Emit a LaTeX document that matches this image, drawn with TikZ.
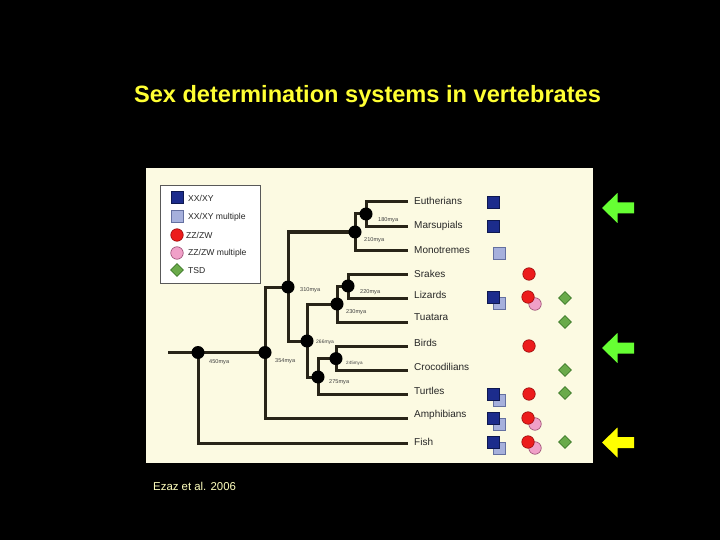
\documentclass[tikz,border=0pt]{standalone}
\usepackage{fontspec}
\setmainfont{Liberation Sans}
\usetikzlibrary{shapes.geometric}
\definecolor{titleyellow}{RGB}{255,255,51}
\definecolor{citeyellow}{RGB}{255,255,190}
\definecolor{panelbg}{RGB}{252,250,226}
\definecolor{branch}{RGB}{40,36,24}
\definecolor{xxdark}{RGB}{28,44,140}
\definecolor{xxdarkline}{RGB}{14,24,80}
\definecolor{xxlight}{RGB}{166,176,220}
\definecolor{xxlightline}{RGB}{100,112,160}
\definecolor{zzred}{RGB}{236,28,28}
\definecolor{zzredline}{RGB}{150,10,10}
\definecolor{zzpink}{RGB}{240,160,200}
\definecolor{zzpinkline}{RGB}{150,70,110}
\definecolor{tsdgreen}{RGB}{106,170,74}
\definecolor{tsdline}{RGB}{60,120,40}
\definecolor{arrowgreen}{RGB}{102,255,51}
\definecolor{arrowyellow}{RGB}{255,255,0}
\tikzset{
  brl/.style={draw=branch, line width=3pt},
  dot/.style={circle, fill=black, minimum size=13pt, inner sep=0pt},
  xxd/.style={rectangle, fill=xxdark, draw=xxdarkline, line width=0.6pt, minimum size=12pt, inner sep=0pt},
  xxl/.style={rectangle, fill=xxlight, draw=xxlightline, line width=0.6pt, minimum size=12pt, inner sep=0pt},
  zzr/.style={circle, fill=zzred, draw=zzredline, line width=0.6pt, minimum size=12.5pt, inner sep=0pt},
  zzp/.style={circle, fill=zzpink, draw=zzpinkline, line width=0.6pt, minimum size=12.5pt, inner sep=0pt},
  tsd/.style={diamond, fill=tsdgreen, draw=tsdline, line width=0.6pt, minimum size=13pt, inner sep=0pt},
  tip/.style={anchor=west, font=\fontsize{10}{12}\selectfont, text=black!85, inner sep=0pt},
  mya/.style={anchor=west, font=\fontsize{5.6}{6}\selectfont, text=black!75, inner sep=0pt},
  leg/.style={anchor=west, font=\fontsize{8.6}{10}\selectfont, text=black!85, inner sep=0pt}
}
\begin{document}
\begin{tikzpicture}[x=1pt, y=-1pt]
\useasboundingbox (0,0) rectangle (720,540);
\fill[black] (0,0) rectangle (720,540);
% title
\node[text=titleyellow, font=\bfseries\fontsize{23.6}{28}\selectfont] (title) at (367.5,96) {Sex determination systems in vertebrates};
% panel
\fill[panelbg] (146,168) rectangle (593,463);
% legend
\draw[fill=white, draw=black!65, line width=0.8pt] (160,185) rectangle (260,283);
\node[xxd] (lg1) at (177,197) {};
\node[leg] (lt1) at (188,198) {XX/XY};
\node[xxl] (lg2) at (177,216) {};
\node[leg] (lt2) at (188,217) {XX/XY multiple};
\node[zzr] (lg3) at (177,235) {};
\node[leg] (lt3) at (186,235) {ZZ/ZW};
\node[zzp] (lg4) at (177,253) {};
\node[leg] (lt4) at (188,253.5) {ZZ/ZW multiple};
\node[tsd] (lg5) at (177,270) {};
\node[leg] (lt5) at (188,271) {TSD};
% tip coordinates
\coordinate (tEu) at (408,202);
\coordinate (tMa) at (408,226.1);
\coordinate (tMo) at (408,250.2);
\coordinate (tSn) at (408,274.3);
\coordinate (tLi) at (408,298.4);
\coordinate (tTu) at (408,322.5);
\coordinate (tBi) at (408,346.6);
\coordinate (tCr) at (408,370.7);
\coordinate (tTt) at (408,394.8);
\coordinate (tAm) at (408,418.9);
\coordinate (tFi) at (408,443);
% internal node coordinates
\coordinate (c180) at (366,214);
\coordinate (c210) at (355,232);
\coordinate (c220) at (348,286);
\coordinate (c230) at (337,304);
\coordinate (c245) at (336,358.6);
\coordinate (c275) at (318,377);
\coordinate (c266) at (307,341);
\coordinate (c310) at (288,287);
\coordinate (c354) at (265,352.5);
\coordinate (c450) at (198,352.5);
\coordinate (croot) at (168,352.5);
% branches
\draw[brl] (c180) |- (tEu);
\draw[brl] (c180) |- (tMa);
\draw[brl] (c210) |- (c180);
\draw[brl] (c210) |- (tMo);
\draw[brl] (c220) |- (tSn);
\draw[brl] (c220) |- (tLi);
\draw[brl] (c230) |- (c220);
\draw[brl] (c230) |- (tTu);
\draw[brl] (c245) |- (tBi);
\draw[brl] (c245) |- (tCr);
\draw[brl] (c275) |- (c245);
\draw[brl] (c275) |- (tTt);
\draw[brl] (c266) |- (c230);
\draw[brl] (c266) |- (c275);
\draw[brl] (c310) |- (c210);
\draw[brl] (c310) |- (c266);
\draw[brl] (c354) |- (c310);
\draw[brl] (c354) |- (tAm);
\draw[brl] (c450) -- (c354);
\draw[brl] (c450) |- (tFi);
\draw[brl] (croot) -- (c450);
% internal dots
\node[dot] (d180) at (c180) {};
\node[dot] (d210) at (c210) {};
\node[dot] (d220) at (c220) {};
\node[dot] (d230) at (c230) {};
\node[dot] (d245) at (c245) {};
\node[dot] (d275) at (c275) {};
\node[dot] (d266) at (c266) {};
\node[dot] (d310) at (c310) {};
\node[dot] (d354) at (c354) {};
\node[dot] (d450) at (c450) {};
% mya labels
\node[mya] (m180) at (378,220.5) {180mya};
\node[mya] (m210) at (364,240) {210mya};
\node[mya] (m220) at (360,292) {220mya};
\node[mya] (m230) at (346,312) {230mya};
\node[mya] (m310) at (300,290) {310mya};
\node[mya, font=\fontsize{5}{6}\selectfont] (m266) at (316,342.5) {266mya};
\node[mya, font=\fontsize{4.6}{6}\selectfont] (m245) at (346,363) {245mya};
\node[mya] (m275) at (329,382) {275mya};
\node[mya] (m354) at (275,361) {354mya};
\node[mya] (m450) at (209,362) {450mya};
% tip labels
\node[tip] (lEu) at (414,201) {Eutherians};
\node[tip] (lMa) at (414,226) {Marsupials};
\node[tip] (lMo) at (414,250) {Monotremes};
\node[tip] (lSn) at (414,274) {Srakes};
\node[tip] (lLi) at (414,294.5) {Lizards};
\node[tip] (lTu) at (414,317.5) {Tuatara};
\node[tip] (lBi) at (414,343) {Birds};
\node[tip] (lCr) at (414,366.5) {Crocodilians};
\node[tip] (lTt) at (414,390.5) {Turtles};
\node[tip] (lAm) at (414,415) {Amphibians};
\node[tip] (lFi) at (414,442) {Fish};
% XX/XY symbols
\node[xxd] (sEu) at (493,202) {};
\node[xxd] (sMa) at (493,226) {};
\node[xxl] (sMo) at (499,253) {};
\node[xxl] (sLi2) at (499,303) {};
\node[xxd] (sLi) at (493,297.5) {};
\node[xxl] (sTt2) at (499,400) {};
\node[xxd] (sTt) at (493,394) {};
\node[xxl] (sAm2) at (499,424) {};
\node[xxd] (sAm) at (493,418) {};
\node[xxl] (sFi2) at (499,448) {};
\node[xxd] (sFi) at (493,442) {};
% ZZ/ZW symbols
\node[zzr] (rSn) at (529,274) {};
\node[zzp] (rLi2) at (535,304) {};
\node[zzr] (rLi) at (528,297) {};
\node[zzr] (rBi) at (529,346) {};
\node[zzr] (rTt) at (529,394) {};
\node[zzp] (rAm2) at (535,424) {};
\node[zzr] (rAm) at (528,418) {};
\node[zzp] (rFi2) at (535,448) {};
\node[zzr] (rFi) at (528,442) {};
% TSD symbols
\node[tsd] (gLi) at (565,298) {};
\node[tsd] (gTu) at (565,322) {};
\node[tsd] (gCr) at (565,370) {};
\node[tsd] (gTt) at (565,393) {};
\node[tsd] (gFi) at (565,442) {};
% citation
\node[anchor=west, text=citeyellow, font=\fontsize{11.4}{13}\selectfont, inner sep=0pt] (cite) at (153,486) {Ezaz et al. 2006};
% arrows
\fill[arrowgreen] (602,208) -- (617.5,193) -- (617.5,202.5) -- (634,202.5) -- (634,213.5) -- (617.5,213.5) -- (617.5,223) -- cycle;
\fill[arrowgreen] (602,348) -- (617.5,333) -- (617.5,342.5) -- (634,342.5) -- (634,353.5) -- (617.5,353.5) -- (617.5,363) -- cycle;
\fill[arrowyellow] (602,442.5) -- (617.5,427.5) -- (617.5,437) -- (634,437) -- (634,448) -- (617.5,448) -- (617.5,457.5) -- cycle;
\end{tikzpicture}
\end{document}
